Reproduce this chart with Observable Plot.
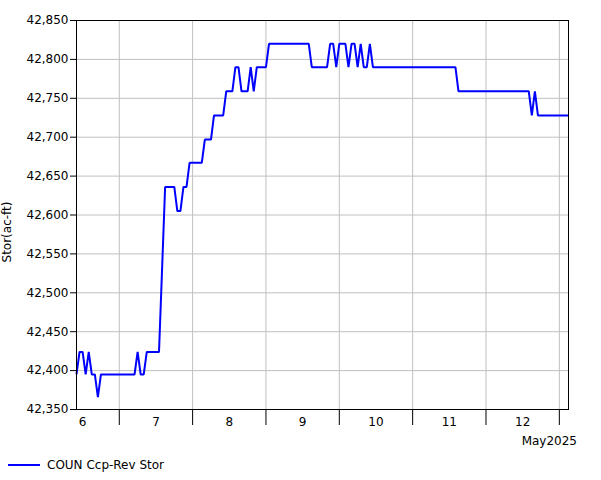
<!DOCTYPE html>
<html><head><meta charset="utf-8">
<script src="https://cdn.jsdelivr.net/npm/d3@7"></script>
<script src="https://cdn.jsdelivr.net/npm/@observablehq/plot@0.6"></script>
<style>
body{margin:0;background:#fff;font-family:"DejaVu Sans",Verdana,sans-serif;color:#000;}
#wrap{position:relative;width:601px;height:480px;overflow:hidden;}
#ylab{position:absolute;left:7px;top:232px;transform:translate(-50%,-50%) rotate(-90deg);font-size:12px;white-space:nowrap;line-height:14px;}
#month{position:absolute;right:24px;top:434px;font-size:12px;line-height:14px;}
#legend{position:absolute;left:0;top:450px;height:30px;width:601px;}
#legend svg{position:absolute;left:0;top:0;}
#legend span{position:absolute;left:47px;top:8px;font-size:12px;line-height:14px;white-space:nowrap;}
</style></head><body>
<div id="wrap">
<div id="chart"></div>
<div id="ylab">Stor(ac-ft)</div>
<div id="month">May2025</div>
<div id="legend"><svg width="44" height="30"><line x1="8" x2="40" y1="15" y2="15" stroke="#0000ff" stroke-width="2"/></svg><span>COUN Ccp-Rev Stor</span></div>
</div>
<script>
// Hourly storage, first reading 2025-05-06 10:00 (null = missing reading)
const startTime = "2025-05-06T10:00:00Z";
const endTime = "2025-05-13T03:00:00Z";
const storMay6 = [42395, 42424, 42424, 42395, 42424, 42395, 42395, 42366, 42395, 42395, 42395, 42395, 42395, 42395];
const storMay7 = [42395, 42395, 42395, 42395, 42395, 42395, 42424, 42395, 42395, 42424, 42424, 42424, 42424, 42424, null, 42636, 42636, 42636, 42636, 42605, 42605, 42636, 42636, 42667];
const storMay8 = [42667, 42667, 42667, 42667, 42697, 42697, 42697, 42728, 42728, 42728, 42728, 42759, 42759, 42759, 42790, 42790, 42759, 42759, 42759, 42790, 42759, 42790, 42790, 42790];
const storMay9 = [42790, 42820, 42820, 42820, 42820, 42820, 42820, 42820, 42820, 42820, 42820, 42820, 42820, 42820, 42820, 42790, 42790, 42790, 42790, 42790, 42790, 42820, 42820, 42790];
const storMay10 = [42820, 42820, 42820, 42790, 42820, 42820, 42790, 42820, 42790, 42790, 42820, 42790, 42790, 42790, 42790, 42790, 42790, 42790, 42790, 42790, 42790, 42790, 42790, 42790];
const storMay11 = [42790, 42790, 42790, 42790, 42790, 42790, 42790, 42790, 42790, 42790, 42790, 42790, 42790, 42790, 42790, 42759, 42759, 42759, 42759, 42759, 42759, 42759, 42759, 42759];
const storMay12 = [42759, 42759, 42759, 42759, 42759, 42759, 42759, 42759, 42759, 42759, 42759, 42759, 42759, 42759, 42759, 42728, 42759, 42728, 42728, 42728, 42728, 42728, 42728, 42728];
const storMay13 = [42728, 42728, 42728, 42728];

const yTicks = [42350, 42400, 42450, 42500, 42550, 42600, 42650, 42700, 42750, 42800, 42850];
const dayBounds = ["2025-05-07", "2025-05-08", "2025-05-09", "2025-05-10", "2025-05-11", "2025-05-12", "2025-05-13"];
const dayLabelTimes = ["2025-05-06T12:00Z", "2025-05-07T12:00Z", "2025-05-08T12:00Z", "2025-05-09T12:00Z", "2025-05-10T12:00Z", "2025-05-11T12:00Z", "2025-05-12T12:00Z"];

const storage = [...storMay6, ...storMay7, ...storMay8, ...storMay9, ...storMay10, ...storMay11, ...storMay12, ...storMay13];
const t0 = new Date(startTime);
const data = storage.map((v, i) => ({time: d3.utcHour.offset(t0, i), value: v})).filter(d => d.value != null);
const dayTicks = dayBounds.map(s => new Date(s + "T00:00:00Z")).filter(d => d <= new Date(endTime));
const labelTicks = dayLabelTimes.map(s => new Date(s));

const chart = Plot.plot({
  width: 601, height: 450,
  marginLeft: 76, marginRight: 33, marginTop: 20, marginBottom: 41,
  style: {fontFamily: "'DejaVu Sans', Verdana, sans-serif", fontSize: "12px", color: "black", background: "white", overflow: "visible"},
  x: {type: "utc", domain: [t0, new Date(endTime)]},
  y: {domain: [42350, 42850]},
  marks: [
    Plot.gridY(yTicks, {stroke: "#c0c0c0", strokeOpacity: 1, strokeWidth: 1}),
    Plot.gridX(dayTicks, {stroke: "#c0c0c0", strokeOpacity: 1, strokeWidth: 1}),
    Plot.axisY(yTicks, {tickSize: 6, tickPadding: 2, tickFormat: d3.format(","), label: null, stroke: "black", fill: "black"}),
    Plot.axisX(dayTicks, {tickSize: 16, tickFormat: () => "", label: null, stroke: "black"}),
    Plot.axisX(labelTicks, {tickSize: 0, tickPadding: 8, tickFormat: d3.utcFormat("%-d"), label: null, fill: "black"}),
    Plot.line(data, {x: "time", y: "value", stroke: "#0000ff", strokeWidth: 2, strokeLinejoin: "miter", strokeLinecap: "butt", curve: "linear"}),
    Plot.frame({stroke: "black", strokeWidth: 1})
  ]
});
document.getElementById("chart").appendChild(chart);
</script>
</body></html>
